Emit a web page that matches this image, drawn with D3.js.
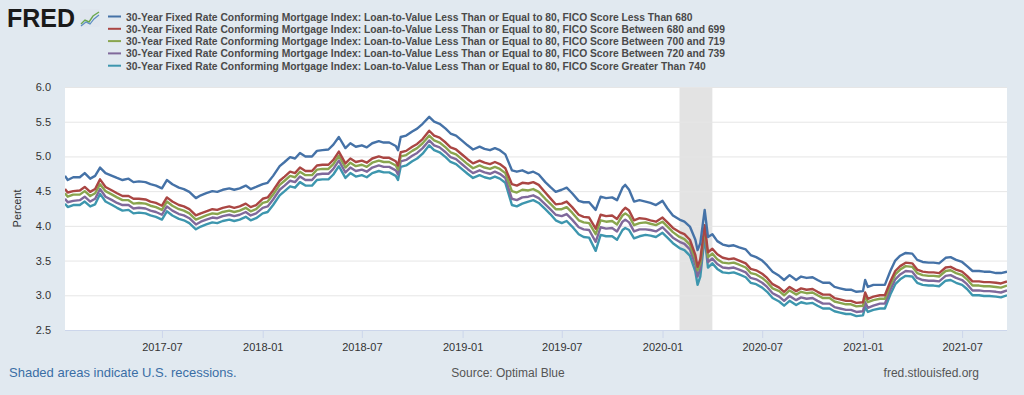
<!DOCTYPE html>
<html><head><meta charset="utf-8">
<script src="https://cdn.jsdelivr.net/npm/d3@7"></script>
<style>
html,body{margin:0;padding:0;background:#e1e9f0;}
svg{display:block;font-family:"Liberation Sans",Arial,Helvetica,sans-serif;}
</style></head><body>
<svg id="c" width="1024" height="395"></svg>
<script>
const dates = [
"2017-01-05","2017-01-10","2017-01-20","2017-02-01","2017-02-10","2017-02-20","2017-03-01","2017-03-10","2017-03-20","2017-04-01","2017-04-10","2017-04-20",
"2017-05-01","2017-05-10","2017-05-20","2017-06-01","2017-06-10","2017-06-20","2017-07-01","2017-07-10","2017-07-20","2017-08-01","2017-08-10","2017-08-20",
"2017-09-01","2017-09-10","2017-09-20","2017-10-01","2017-10-10","2017-10-20","2017-11-01","2017-11-10","2017-11-20","2017-12-01","2017-12-10","2017-12-20",
"2018-01-01","2018-01-10","2018-01-20","2018-02-01","2018-02-10","2018-02-20","2018-03-01","2018-03-10","2018-03-20","2018-04-01","2018-04-10","2018-04-20",
"2018-05-01","2018-05-10","2018-05-20","2018-06-01","2018-06-10","2018-06-20","2018-07-01","2018-07-10","2018-07-20","2018-08-01","2018-08-10","2018-08-20",
"2018-09-01","2018-09-05","2018-09-10","2018-09-20","2018-10-01","2018-10-10","2018-10-20",
"2018-11-01","2018-11-10","2018-11-20","2018-12-01","2018-12-10","2018-12-20","2019-01-01","2019-01-10","2019-01-20","2019-02-01","2019-02-10","2019-02-20",
"2019-03-01","2019-03-10","2019-03-20","2019-04-01","2019-04-10","2019-04-20","2019-05-01","2019-05-10","2019-05-20","2019-06-01","2019-06-10","2019-06-20",
"2019-07-01","2019-07-10","2019-07-20","2019-08-01","2019-08-10","2019-08-20","2019-09-01","2019-09-10","2019-09-20","2019-10-01","2019-10-10","2019-10-20","2019-10-25",
"2019-11-01","2019-11-10","2019-11-20","2019-12-01","2019-12-10","2019-12-20","2020-01-01","2020-01-10","2020-01-20","2020-02-01","2020-02-10","2020-02-20",
"2020-03-01","2020-03-05","2020-03-10","2020-03-18","2020-03-24","2020-04-01","2020-04-10","2020-04-20",
"2020-05-01","2020-05-10","2020-05-20","2020-06-01","2020-06-10","2020-06-20","2020-07-01","2020-07-10","2020-07-20",
"2020-08-01","2020-08-10","2020-08-20","2020-09-01","2020-09-10","2020-09-20","2020-10-01","2020-10-10","2020-10-20","2020-11-01","2020-11-10","2020-11-20",
"2020-12-01","2020-12-10","2020-12-20","2021-01-01","2021-01-05","2021-01-10","2021-01-20",
"2021-02-01","2021-02-10","2021-02-20","2021-03-01","2021-03-10","2021-03-20","2021-04-01","2021-04-10","2021-04-20","2021-05-01","2021-05-10","2021-05-20",
"2021-06-01","2021-06-10","2021-06-20","2021-07-01","2021-07-10","2021-07-20","2021-08-01","2021-08-10","2021-08-20","2021-09-01","2021-09-10","2021-09-21"
];
const ficoLT680 = [
4.72,4.66,4.70,4.70,4.76,4.68,4.72,4.84,4.76,4.72,4.69,4.66,
4.68,4.63,4.64,4.63,4.60,4.58,4.54,4.66,4.60,4.55,4.53,4.49,
4.40,4.44,4.47,4.50,4.49,4.52,4.54,4.52,4.54,4.58,4.53,4.56,
4.60,4.62,4.72,4.86,4.92,4.99,4.97,5.05,5.00,5.00,5.08,5.09,
5.10,5.17,5.28,5.12,5.19,5.14,5.16,5.13,5.19,5.22,5.20,5.20,
5.15,5.09,5.28,5.30,5.36,5.40,5.47,
5.57,5.50,5.47,5.40,5.33,5.30,5.22,5.16,5.10,5.14,5.11,5.09,
5.12,5.09,5.03,4.80,4.78,4.80,4.76,4.78,4.74,4.63,4.56,4.49,
4.52,4.55,4.47,4.36,4.34,4.34,4.23,4.42,4.40,4.41,4.37,4.55,4.59,
4.52,4.35,4.37,4.35,4.33,4.30,4.36,4.25,4.15,4.09,4.06,3.99,
3.80,3.65,3.75,4.23,3.84,3.88,3.78,3.73,
3.71,3.72,3.69,3.66,3.58,3.55,3.50,3.43,3.34,
3.28,3.22,3.29,3.22,3.27,3.25,3.26,3.22,3.18,3.18,3.12,3.10,
3.08,3.08,3.05,3.06,3.22,3.12,3.15,
3.15,3.15,3.35,3.50,3.57,3.61,3.60,3.51,3.48,3.47,3.47,3.46,
3.54,3.55,3.51,3.48,3.42,3.35,3.35,3.34,3.34,3.32,3.32,3.34
];
const fico680to699 = [
4.53,4.48,4.50,4.51,4.56,4.49,4.53,4.67,4.56,4.51,4.47,4.43,
4.43,4.39,4.39,4.38,4.35,4.33,4.29,4.41,4.35,4.30,4.28,4.24,
4.15,4.18,4.21,4.24,4.23,4.26,4.28,4.26,4.28,4.32,4.27,4.30,
4.39,4.41,4.51,4.65,4.71,4.78,4.76,4.84,4.79,4.79,4.87,4.88,
4.88,4.95,5.07,4.90,4.97,4.92,4.94,4.91,4.97,5.00,4.98,4.98,
4.93,4.87,5.06,5.08,5.14,5.18,5.25,
5.37,5.30,5.27,5.20,5.13,5.10,5.02,4.96,4.90,4.94,4.91,4.89,
4.92,4.89,4.83,4.60,4.58,4.62,4.61,4.63,4.59,4.48,4.40,4.31,
4.32,4.35,4.27,4.16,4.13,4.12,3.96,4.16,4.14,4.15,4.10,4.22,4.26,
4.22,4.08,4.11,4.10,4.08,4.06,4.12,4.05,3.97,3.91,3.88,3.80,
3.58,3.41,3.52,4.01,3.62,3.67,3.59,3.54,
3.52,3.53,3.50,3.46,3.38,3.36,3.31,3.25,3.16,
3.11,3.05,3.12,3.06,3.10,3.08,3.09,3.05,3.01,3.01,2.96,2.94,
2.92,2.92,2.89,2.90,3.04,2.95,2.98,
3.00,3.00,3.20,3.35,3.42,3.47,3.46,3.37,3.34,3.33,3.33,3.32,
3.40,3.41,3.37,3.34,3.28,3.20,3.20,3.19,3.19,3.18,3.17,3.20
];
const fico700to719 = [
4.47,4.42,4.45,4.45,4.50,4.43,4.47,4.60,4.50,4.45,4.41,4.37,
4.37,4.32,4.33,4.32,4.29,4.27,4.23,4.35,4.29,4.24,4.22,4.18,
4.09,4.12,4.15,4.18,4.17,4.20,4.22,4.20,4.22,4.26,4.21,4.24,
4.33,4.35,4.45,4.59,4.65,4.72,4.70,4.78,4.73,4.73,4.81,4.82,
4.82,4.89,5.01,4.84,4.91,4.86,4.88,4.85,4.91,4.94,4.92,4.92,
4.87,4.81,5.00,5.02,5.08,5.12,5.19,
5.30,5.23,5.20,5.13,5.06,5.03,4.95,4.89,4.83,4.87,4.84,4.82,
4.85,4.82,4.76,4.50,4.48,4.52,4.51,4.53,4.49,4.39,4.32,4.24,
4.24,4.27,4.19,4.08,4.05,4.04,3.88,4.08,4.06,4.07,4.02,4.15,4.18,
4.14,4.01,4.04,4.05,4.03,4.01,4.06,3.99,3.91,3.84,3.81,3.73,
3.52,3.36,3.46,3.97,3.55,3.60,3.52,3.47,
3.46,3.47,3.44,3.40,3.32,3.30,3.25,3.19,3.10,
3.06,3.00,3.07,3.01,3.05,3.03,3.04,3.00,2.96,2.96,2.91,2.89,
2.87,2.87,2.84,2.85,2.98,2.90,2.93,
2.95,2.95,3.15,3.30,3.37,3.42,3.41,3.32,3.29,3.28,3.28,3.27,
3.35,3.36,3.32,3.29,3.23,3.14,3.14,3.13,3.13,3.12,3.11,3.14
];
const fico720to739 = [
4.39,4.34,4.36,4.37,4.42,4.35,4.39,4.53,4.42,4.37,4.33,4.30,
4.30,4.25,4.26,4.25,4.22,4.20,4.16,4.28,4.22,4.17,4.15,4.11,
4.02,4.06,4.09,4.12,4.11,4.14,4.16,4.14,4.16,4.20,4.15,4.18,
4.26,4.28,4.38,4.52,4.58,4.65,4.63,4.71,4.66,4.66,4.74,4.75,
4.75,4.82,4.94,4.77,4.84,4.79,4.81,4.78,4.84,4.87,4.85,4.85,
4.80,4.74,4.93,4.95,5.01,5.05,5.12,
5.23,5.16,5.13,5.06,4.99,4.96,4.88,4.82,4.76,4.80,4.77,4.75,
4.78,4.75,4.69,4.39,4.37,4.41,4.42,4.44,4.40,4.31,4.24,4.16,
4.14,4.17,4.09,3.98,3.95,3.94,3.77,3.98,3.96,3.97,3.92,4.06,4.09,
4.05,3.92,3.95,3.95,3.94,3.92,3.98,3.91,3.83,3.77,3.74,3.66,
3.44,3.27,3.38,3.92,3.48,3.53,3.45,3.40,
3.39,3.40,3.37,3.33,3.25,3.23,3.18,3.12,3.03,
2.98,2.92,2.99,2.93,2.97,2.95,2.96,2.92,2.88,2.88,2.83,2.81,
2.79,2.79,2.76,2.77,2.90,2.82,2.85,
2.88,2.88,3.08,3.23,3.30,3.35,3.34,3.25,3.22,3.21,3.21,3.20,
3.28,3.29,3.25,3.22,3.16,3.07,3.07,3.06,3.06,3.05,3.04,3.07
];
const ficoGT740 = [
4.32,4.27,4.30,4.30,4.35,4.28,4.31,4.46,4.35,4.30,4.26,4.22,
4.23,4.18,4.19,4.18,4.15,4.13,4.09,4.21,4.15,4.10,4.08,4.04,
3.95,3.99,4.02,4.05,4.04,4.07,4.09,4.07,4.09,4.13,4.08,4.11,
4.18,4.20,4.30,4.44,4.50,4.57,4.55,4.63,4.58,4.58,4.66,4.67,
4.67,4.74,4.86,4.69,4.76,4.71,4.73,4.70,4.76,4.79,4.77,4.77,
4.72,4.66,4.85,4.87,4.93,4.97,5.04,
5.16,5.09,5.06,4.99,4.92,4.89,4.81,4.75,4.69,4.73,4.70,4.68,
4.71,4.68,4.62,4.30,4.28,4.32,4.35,4.37,4.33,4.24,4.17,4.08,
4.04,4.07,3.99,3.88,3.84,3.83,3.64,3.87,3.85,3.85,3.80,3.94,3.97,
3.94,3.82,3.85,3.87,3.86,3.84,3.90,3.83,3.75,3.68,3.65,3.57,
3.34,3.15,3.27,3.84,3.40,3.46,3.38,3.33,
3.32,3.33,3.30,3.26,3.18,3.16,3.11,3.05,2.96,
2.91,2.85,2.92,2.86,2.90,2.88,2.89,2.85,2.81,2.81,2.77,2.75,
2.73,2.73,2.70,2.71,2.83,2.76,2.79,
2.81,2.81,3.01,3.16,3.23,3.28,3.27,3.18,3.15,3.14,3.14,3.13,
3.21,3.22,3.18,3.15,3.09,3.00,3.00,2.99,2.99,2.98,2.97,3.00
];
const seriesNames = [
"30-Year Fixed Rate Conforming Mortgage Index: Loan-to-Value Less Than or Equal to 80, FICO Score Less Than 680",
"30-Year Fixed Rate Conforming Mortgage Index: Loan-to-Value Less Than or Equal to 80, FICO Score Between 680 and 699",
"30-Year Fixed Rate Conforming Mortgage Index: Loan-to-Value Less Than or Equal to 80, FICO Score Between 700 and 719",
"30-Year Fixed Rate Conforming Mortgage Index: Loan-to-Value Less Than or Equal to 80, FICO Score Between 720 and 739",
"30-Year Fixed Rate Conforming Mortgage Index: Loan-to-Value Less Than or Equal to 80, FICO Score Greater Than 740"
];
const seriesColors = ["#4572a7","#aa4643","#89a54e","#80699b","#3d96ae"];
const yTicks = [2.5,3.0,3.5,4.0,4.5,5.0,5.5,6.0];
const xTickLabels = ["2017-07","2018-01","2018-07","2019-01","2019-07","2020-01","2020-07","2021-01","2021-07"];
const recession = ["2020-02-01","2020-04-01"];
const domainDates = ["2017-01-05","2021-09-21"];

const parse = d3.utcParse("%Y-%m-%d");
const parseM = d3.utcParse("%Y-%m");
const svg = d3.select("#c");
const M = {l:65, r:1007, t:87, b:330};

const x = d3.scaleUtc().domain(domainDates.map(parse)).range([M.l, M.r]);
const y = d3.scaleLinear().domain([2.5, 6.0]).range([M.b, M.t]);

svg.append("rect").attr("x",M.l).attr("y",M.t).attr("width",M.r-M.l).attr("height",M.b-M.t).attr("fill","#ffffff");

svg.append("rect")
  .attr("x", x(parse(recession[0]))).attr("y", M.t)
  .attr("width", x(parse(recession[1])) - x(parse(recession[0])))
  .attr("height", M.b - M.t).attr("fill", "#e3e3e3");

const yAxis = d3.axisLeft(y).tickValues(yTicks).tickFormat(d3.format(".1f")).tickSize(-(M.r-M.l)).tickPadding(14);
const gy = svg.append("g").attr("transform",`translate(${M.l},0)`).call(yAxis);
gy.select(".domain").remove();
gy.selectAll(".tick line").attr("stroke","#e6e6e6").attr("stroke-width",1);
gy.selectAll(".tick text").attr("fill","#333").style("font-size","11px").style("font-family","Liberation Sans, Arial, sans-serif");

const xAxis = d3.axisBottom(x).tickValues(xTickLabels.map(parseM)).tickFormat(d3.utcFormat("%Y-%m")).tickSize(8).tickPadding(5);
const gx = svg.append("g").attr("transform",`translate(0,${M.b})`).call(xAxis);
gx.select(".domain").attr("stroke","#ccd6eb").attr("d",`M${M.l},0.5H${M.r}`);
gx.selectAll(".tick line").attr("stroke","#ccd6eb");
gx.selectAll(".tick text").attr("fill","#333").style("font-size","11px").style("font-family","Liberation Sans, Arial, sans-serif");

const allSeries = [ficoLT680, fico680to699, fico700to719, fico720to739, ficoGT740];
const parsedDates = dates.map(parse);
const line = d3.line().x((d,i)=>x(parsedDates[i])).y(d=>y(d));
svg.append("clipPath").attr("id","pc").append("rect")
  .attr("x",M.l).attr("y",M.t-2).attr("width",M.r-M.l).attr("height",M.b-M.t+2);
const lg = svg.append("g").attr("clip-path","url(#pc)");
allSeries.slice().reverse().forEach((s,k)=>{
  const i = allSeries.length-1-k;
  lg.append("path").datum(s).attr("d",line).attr("fill","none")
    .attr("stroke",seriesColors[i]).attr("stroke-width",2.4).attr("stroke-linejoin","round");
});

svg.append("text").attr("transform",`translate(21,${(M.t+M.b)/2}) rotate(-90)`)
  .attr("text-anchor","middle").attr("fill","#333").style("font-size","11px").text("Percent");

svg.append("text").attr("x",7).attr("y",27).attr("fill","#1a1a1a")
  .style("font-size","25px").style("font-weight","bold").style("font-family","Liberation Sans, Arial, sans-serif")
  .style("letter-spacing","0px").text("FRED");
const logo = svg.append("g").attr("transform","translate(80,9)");
logo.append("rect").attr("width",20).attr("height",18).attr("rx",2).attr("fill","#dfe6ee");
logo.append("polyline").attr("points","1,15 5,11 9,13 13,7 19,3").attr("fill","none").attr("stroke","#6aa84f").attr("stroke-width",1.4);
logo.append("polyline").attr("points","1,17 6,13 10,15 14,10 19,6").attr("fill","none").attr("stroke","#5b8cc0").attr("stroke-width",1.2);

const leg = svg.append("g");
seriesNames.forEach((n,i)=>{
  const yy = 16.5 + i*12.3;
  leg.append("line").attr("x1",108).attr("x2",121).attr("y1",yy).attr("y2",yy)
    .attr("stroke",seriesColors[i]).attr("stroke-width",2);
  leg.append("text").attr("x",126).attr("y",yy+4).attr("fill","#4a4a4a")
    .style("font-size","10.3px").style("font-weight","bold").text(n);
});

svg.append("text").attr("x",9).attr("y",377).attr("fill","#3a6ea5").style("font-size","13px").text("Shaded areas indicate U.S. recessions.");
svg.append("text").attr("x",508).attr("y",377).attr("text-anchor","middle").attr("fill","#555").style("font-size","12px").text("Source: Optimal Blue");
svg.append("text").attr("x",979).attr("y",377).attr("text-anchor","end").attr("fill","#555").style("font-size","12px").text("fred.stlouisfed.org");
</script>
</body></html>
